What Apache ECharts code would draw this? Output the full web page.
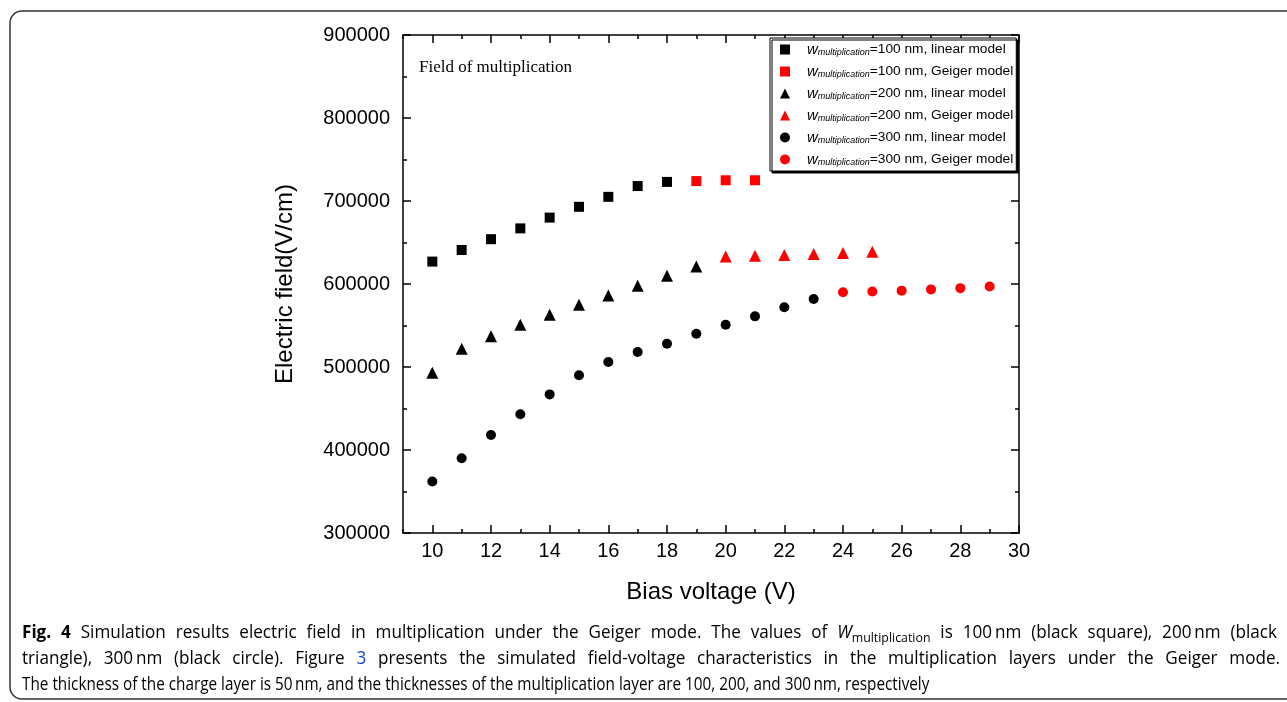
<!DOCTYPE html>
<html>
<head>
<meta charset="utf-8">
<script src="https://cdn.jsdelivr.net/npm/echarts@6/dist/echarts.min.js"></script>
<style>html,body{margin:0;padding:0;background:#fff;}#c{width:1287px;height:702px;}</style>
</head>
<body>
<div id="c"></div>
<script>
// ---- data ----
const v100Linear = [10, 11, 12, 13, 14, 15, 16, 17, 18];
const e100Linear = [627000, 641000, 654000, 667000, 680000, 693000, 705000, 718000, 723000];
const v100Geiger = [19, 20, 21];
const e100Geiger = [724000, 725000, 725000];
const v200Linear = [10, 11, 12, 13, 14, 15, 16, 17, 18, 19];
const e200Linear = [493000, 522000, 537000, 551000, 563000, 575000, 586000, 598000, 610000, 621000];
const v200Geiger = [20, 21, 22, 23, 24, 25];
const e200Geiger = [633000, 634000, 635000, 636000, 637500, 639000];
const v300Linear = [10, 11, 12, 13, 14, 15, 16, 17, 18, 19, 20, 21, 22, 23];
const e300Linear = [362000, 390000, 418000, 443000, 467000, 490000, 506000, 518000, 528000, 540000, 551000, 561000, 572000, 582000];
const v300Geiger = [24, 25, 26, 27, 28, 29];
const e300Geiger = [590000, 591000, 592000, 593500, 595000, 597000];
const seriesNames = [
  '100 nm, linear model', '100 nm, Geiger model',
  '200 nm, linear model', '200 nm, Geiger model',
  '300 nm, linear model', '300 nm, Geiger model'
];
const xMajorTicks = [10, 12, 14, 16, 18, 20, 22, 24, 26, 28, 30];

function zip(xs, ys) { return xs.map((x, i) => [x, ys[i]]); }

// ---- caption text ----
function words(str, st) { return str.split(' ').map(w => [[w, st || 't']]); }
const capLine1 = [].concat(
  [[['Fig.', 'b']], [['4', 'b']]],
  words('Simulation results electric field in multiplication under the Geiger mode. The values of'),
  [[['W', 'i'], ['multiplication', 's']]],
  words('is 100\u2009nm (black square), 200\u2009nm (black')
);
const capLine2 = [].concat(
  words('triangle), 300\u2009nm (black circle). Figure'),
  [[['3', 'l']]],
  words('presents the simulated field-voltage characteristics in the multiplication layers under the Geiger mode.')
);
const capLine3 = words('The thickness of the charge layer is 50\u2009nm, and the thicknesses of the multiplication layer are 100, 200, and 300\u2009nm, respectively');

const capFamily = '"Open Sans", "Noto Sans", sans-serif';
const capStyles = {
  t: {size: 18, weight: 'normal', italic: false, color: '#000', dy: 0},
  b: {size: 18, weight: 'bold', italic: false, color: '#000', dy: 0},
  i: {size: 18, weight: 'normal', italic: true, color: '#000', dy: 0},
  s: {size: 13, weight: 'normal', italic: false, color: '#000', dy: 5},
  l: {size: 18, weight: 'normal', italic: false, color: '#1a3cd6', dy: 0}
};
function fontOf(st) { return (st.italic ? 'italic ' : 'normal ') + st.weight + ' ' + st.size + 'px ' + capFamily; }
const mctx = document.createElement('canvas').getContext('2d');
function measure(text, st, sc) { mctx.font = fontOf(st); return mctx.measureText(text).width * sc; }

function layoutLine(line, left, right, yMid, justify, sc) {
  const els = [];
  const wordW = line.map(w => w.reduce((s, seg) => s + measure(seg[0], capStyles[seg[1]], sc), 0));
  const spaceW = measure(' ', capStyles.t, sc);
  const natural = wordW.reduce((a, b) => a + b, 0) + spaceW * (line.length - 1);
  let gap = spaceW;
  if (justify && line.length > 1) gap = spaceW + (right - left - natural) / (line.length - 1);
  let cx = left;
  line.forEach((w, wi) => {
    let sx = cx;
    w.forEach(seg => {
      const st = capStyles[seg[1]];
      els.push({type: 'text', x: sx, y: yMid + st.dy, scaleX: sc, z: 10, silent: true,
        style: {text: seg[0], font: fontOf(st), fill: st.color, verticalAlign: 'middle', align: 'left'}});
      sx += measure(seg[0], st, sc);
    });
    cx += wordW[wi] + gap;
  });
  return els;
}

const chart = echarts.init(document.getElementById('c'), null, {renderer: 'canvas'});
const F = 'Liberation Sans, Arial, sans-serif';
const axisLine = {show: true, lineStyle: {color: '#000', width: 1.5}};

function mkSeries(name, data, symbol, size, color) {
  return {
    name: name, type: 'scatter', data: data, symbol: symbol, symbolSize: size,
    itemStyle: {color: color, opacity: 1}, xAxisIndex: 0, yAxisIndex: 0, z: 5
  };
}

const graphics = [
  {type: 'rect', shape: {x: 10, y: 11, width: 1320, height: 688, r: 12},
   style: {fill: 'none', stroke: '#333', lineWidth: 1.5}, z: 0, silent: true},
  {type: 'text', x: 419, y: 68,
   style: {text: 'Field of multiplication', font: '17px "Liberation Serif", "Times New Roman", serif', fill: '#000', verticalAlign: 'middle'}, z: 10}
].concat(
  layoutLine(capLine1, 22, 1277, 633, true, 0.95),
  layoutLine(capLine2, 22, 1280, 659, true, 0.95),
  layoutLine(capLine3, 22, 1280, 685, false, 0.85)
);

const option = {
  backgroundColor: '#fff',
  animation: false,
  grid: {left: 403, right: 268, top: 35, bottom: 169, containLabel: false},
  xAxis: [
    {type: 'value', position: 'bottom', min: 9, max: 30,
     axisLine: axisLine,
     axisTick: {show: true, inside: true, length: 8, customValues: xMajorTicks, lineStyle: {color: '#000', width: 1.5}},
     axisLabel: {show: true, customValues: xMajorTicks, fontFamily: F, fontSize: 20, color: '#000', margin: 8},
     splitLine: {show: false},
     name: 'Bias voltage (V)', nameLocation: 'middle', nameGap: 47,
     nameTextStyle: {fontFamily: F, fontSize: 24, color: '#000'}},
    {type: 'value', position: 'bottom', min: 9, max: 30, interval: 1,
     axisLine: {show: false}, axisTick: {show: true, inside: true, length: 4, lineStyle: {color: '#000', width: 1.5}},
     axisLabel: {show: false}, splitLine: {show: false}},
    {type: 'value', position: 'top', min: 9, max: 30,
     axisLine: axisLine,
     axisTick: {show: true, inside: true, length: 8, customValues: xMajorTicks, lineStyle: {color: '#000', width: 1.5}},
     axisLabel: {show: false}, splitLine: {show: false}},
    {type: 'value', position: 'top', min: 9, max: 30, interval: 1,
     axisLine: {show: false}, axisTick: {show: true, inside: true, length: 4, lineStyle: {color: '#000', width: 1.5}},
     axisLabel: {show: false}, splitLine: {show: false}}
  ],
  yAxis: [
    {type: 'value', position: 'left', min: 300000, max: 900000, interval: 100000,
     axisLine: axisLine,
     axisTick: {show: true, inside: true, length: 8, lineStyle: {color: '#000', width: 1.5}},
     minorTick: {show: true, splitNumber: 2, length: 4, lineStyle: {color: '#000', width: 1.5}},
     axisLabel: {fontFamily: F, fontSize: 20, color: '#000', margin: 13, formatter: v => String(v)},
     splitLine: {show: false}, minorSplitLine: {show: false},
     name: 'Electric field(V/cm)', nameLocation: 'middle', nameGap: 106,
     nameTextStyle: {fontFamily: F, fontSize: 24, color: '#000'}},
    {type: 'value', position: 'right', min: 300000, max: 900000, interval: 100000,
     axisLine: axisLine,
     axisTick: {show: true, inside: true, length: 8, lineStyle: {color: '#000', width: 1.5}},
     minorTick: {show: true, splitNumber: 2, length: 4, lineStyle: {color: '#000', width: 1.5}},
     axisLabel: {show: false}, splitLine: {show: false}}
  ],
  legend: {
    orient: 'vertical', left: 770, top: 38,
    padding: [4, 3, 4, 10],
    itemWidth: 10, itemHeight: 10, itemGap: 7,
    backgroundColor: '#fff', borderColor: '#000', borderWidth: 1, borderRadius: 0,
    shadowColor: '#000', shadowOffsetX: 2, shadowOffsetY: 2, shadowBlur: 0,
    data: seriesNames,
    formatter: function (name) { return '{w|w}{s|multiplication}{n|=' + name + '}'; },
    textStyle: {
      color: '#000',
      rich: {
        w: {fontFamily: F, fontStyle: 'italic', fontSize: 15, lineHeight: 15, color: '#000', padding: [0, 0, 0, 12]},
        s: {fontFamily: F, fontStyle: 'italic', fontSize: 9, lineHeight: 15, verticalAlign: 'bottom', color: '#000', padding: [6, 0, 0, 0]},
        n: {fontFamily: F, fontSize: 13.7, lineHeight: 15, color: '#000'}
      }
    }
  },
  series: [
    mkSeries(seriesNames[0], zip(v100Linear, e100Linear), 'rect', 10, '#000'),
    mkSeries(seriesNames[1], zip(v100Geiger, e100Geiger), 'rect', 10, '#ff0000'),
    mkSeries(seriesNames[2], zip(v200Linear, e200Linear), 'triangle', 12, '#000'),
    mkSeries(seriesNames[3], zip(v200Geiger, e200Geiger), 'triangle', 12, '#ff0000'),
    mkSeries(seriesNames[4], zip(v300Linear, e300Linear), 'circle', 10, '#000'),
    mkSeries(seriesNames[5], zip(v300Geiger, e300Geiger), 'circle', 10, '#ff0000')
  ],
  graphic: graphics
};
chart.setOption(option);
</script>
</body>
</html>
